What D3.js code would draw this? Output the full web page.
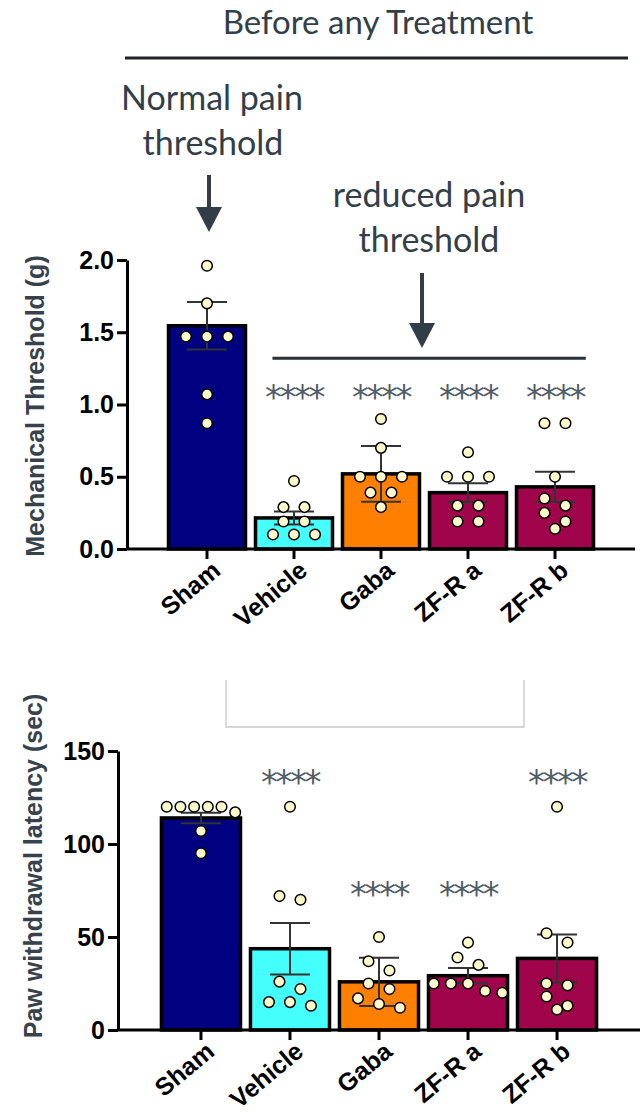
<!DOCTYPE html>
<html>
<head>
<meta charset="utf-8">
<script src="https://cdn.jsdelivr.net/npm/d3@7"></script>
<style>
  body { margin: 0; background: #fff; }
  svg { display: block; }
  .axis path, .axis line { stroke: #000; stroke-width: 3; }
  .axis text { font-family: "Liberation Sans", Arial, sans-serif; font-weight: bold; fill: #000; }
  .note { font-family: Lato, sans-serif; fill: #333f48; }
  .ytitle { font-family: "Liberation Sans", Arial, sans-serif; font-weight: bold; fill: #37424c; font-size: 25px; }
  .stars { font-family: "DejaVu Sans", sans-serif; fill: #525c67; letter-spacing: -2.5px; }
</style>
</head>
<body>
<div id="chart"></div>
<script>
const groups = ["Sham", "Vehicle", "Gaba", "ZF-R a", "ZF-R b"];
const groupColors = ["#000080", "#44fffc", "#ff8000", "#a0044a", "#a0044a"];

// mechanical threshold (g)
const mechMean = [1.545, 0.215, 0.52, 0.39, 0.43];
const mechSem = [0.165, 0.045, 0.193, 0.065, 0.105];
const mechPoints = [
  [1.96, 1.70, 1.47, 1.47, 1.47, 1.07, 0.87],
  [0.47, 0.29, 0.29, 0.19, 0.19, 0.10, 0.10, 0.10],
  [0.90, 0.70, 0.50, 0.50, 0.50, 0.39, 0.39, 0.29],
  [0.67, 0.50, 0.50, 0.50, 0.30, 0.30, 0.19, 0.19],
  [0.87, 0.87, 0.50, 0.35, 0.30, 0.25, 0.19, 0.14]
];
const mechStars = [null, 1.07, 1.07, 1.07, 1.07];
const mechTicks = [0, 0.5, 1.0, 1.5, 2.0];

// paw withdrawal latency (sec)
const pawMean = [114, 43.7, 25.9, 29.2, 38.5];
const pawSem = [2.8, 13.8, 13.0, 4.1, 12.9];
const pawPoints = [
  [120, 120, 120, 120, 120, 117, 107, 95],
  [120, 72, 70, 26, 22, 15, 15, 13],
  [50, 37, 32, 25, 22, 17, 14, 12],
  [47, 39, 35, 25, 25, 25, 21, 20],
  [120, 52, 47, 25, 24, 18, 13, 11]
];
const pawStars = [null, 135, 75, 75, 135];
const pawTicks = [0, 50, 100, 150];

const W = 641, H = 1117;
const svg = d3.select("#chart").append("svg").attr("width", W).attr("height", H);

// simple dot layout: rows of close values, spread and nudged to avoid overlap
function swarm(values, y, cx, bw, r) {
  const sorted = values.slice().sort((a, b) => b - a);
  const placed = [];
  let i = 0;
  while (i < sorted.length) {
    const top = y(sorted[i]);
    const bin = [];
    while (i < sorted.length && y(sorted[i]) - top < 2 * r + 1) {
      bin.push(sorted[i]);
      i++;
    }
    const n = bin.length;
    const gap = n > 1 ? Math.min(21, (bw - 2 * r) / (n - 1)) : 0;
    const shifts = [0, -10.5, 10.5, -21, 21];
    let chosen = null;
    for (const s of shifts) {
      const pts = bin.map((v, k) => ({ v: v, x: cx + s + (k - (n - 1) / 2) * gap, y: y(v) }));
      const hit = pts.some(p => placed.some(q => Math.hypot(p.x - q.x, p.y - q.y) < 2 * r + 0.5));
      if (!hit) { chosen = pts; break; }
    }
    if (!chosen) chosen = bin.map((v, k) => ({ v: v, x: cx + (k - (n - 1) / 2) * gap, y: y(v) }));
    chosen.forEach(p => placed.push(p));
  }
  return placed;
}

function drawPanel(cfg) {
  const g = svg.append("g");

  const x = d3.scaleBand().domain(groups)
    .range([cfg.left, cfg.right])
    .paddingInner(cfg.padIn).paddingOuter(cfg.padOut);
  const y = d3.scaleLinear().domain(cfg.domain).range([cfg.y0, cfg.ytop]);
  const bw = x.bandwidth();

  const rows = groups.map((name, i) => ({
    name: name, mean: cfg.mean[i], sem: cfg.sem[i],
    color: groupColors[i], pts: cfg.points[i], star: cfg.stars[i]
  }));

  // bars
  g.selectAll(".bar").data(rows).enter().append("rect")
    .attr("class", "bar")
    .attr("x", d => x(d.name))
    .attr("width", bw)
    .attr("y", d => y(d.mean))
    .attr("height", d => cfg.y0 - y(d.mean))
    .attr("fill", d => d.color)
    .attr("stroke", "#000")
    .attr("stroke-width", 3.5);

  // error bars
  const err = g.selectAll(".err").data(rows).enter().append("g").attr("class", "err")
    .attr("stroke", "#333").attr("stroke-width", 2);
  err.append("line")
    .attr("x1", d => x(d.name) + bw / 2).attr("x2", d => x(d.name) + bw / 2)
    .attr("y1", d => y(d.mean - d.sem)).attr("y2", d => y(d.mean + d.sem));
  err.append("line")
    .attr("x1", d => x(d.name) + bw / 2 - 20).attr("x2", d => x(d.name) + bw / 2 + 20)
    .attr("y1", d => y(d.mean + d.sem)).attr("y2", d => y(d.mean + d.sem));
  err.append("line")
    .attr("x1", d => x(d.name) + bw / 2 - 20).attr("x2", d => x(d.name) + bw / 2 + 20)
    .attr("y1", d => y(d.mean - d.sem)).attr("y2", d => y(d.mean - d.sem));

  // dots
  const r = 5.3;
  rows.forEach(d => {
    const pts = swarm(d.pts, y, x(d.name) + bw / 2, bw, r);
    g.append("g").selectAll("circle").data(pts).enter().append("circle")
      .attr("cx", p => p.x).attr("cy", p => p.y).attr("r", r)
      .attr("fill", "#fffbcc").attr("stroke", "#000").attr("stroke-width", 1.5);
  });

  // axes
  const yAxis = d3.axisLeft(y).tickValues(cfg.ticks).tickFormat(cfg.fmt)
    .tickSize(10).tickSizeOuter(0).tickPadding(3);
  g.append("g").attr("class", "axis")
    .attr("transform", "translate(" + cfg.left + ",0)")
    .call(yAxis)
    .selectAll("text").style("font-size", "25px");

  const xAxis = d3.axisBottom(x).tickSize(10).tickSizeOuter(0).tickPadding(0);
  const xg = g.append("g").attr("class", "axis")
    .attr("transform", "translate(0," + cfg.y0 + ")")
    .call(xAxis);
  xg.select(".domain").remove();
  xg.append("line").attr("x1", cfg.left).attr("x2", cfg.xEnd).attr("y1", 0).attr("y2", 0);
  xg.selectAll("text")
    .style("font-size", "25px")
    .attr("text-anchor", "end")
    .attr("dy", null)
    .attr("y", null)
    .attr("transform", "translate(15,24) rotate(-40)");

  // significance stars
  g.selectAll(".stars").data(rows.filter(d => d.star !== null)).enter().append("text")
    .attr("class", "stars")
    .attr("x", d => x(d.name) + bw / 2)
    .attr("y", d => y(d.star) + 15)
    .attr("text-anchor", "middle")
    .style("font-size", "34px")
    .text("****");

  // axis title
  g.append("text").attr("class", "ytitle")
    .attr("transform", "translate(" + cfg.titleX + "," + cfg.titleY + ") rotate(-90)")
    .attr("text-anchor", "middle")
    .text(cfg.title);

  return { g: g, x: x, y: y };
}

const mech = drawPanel({
  left: 127, right: 635, xEnd: 635, y0: 549, ytop: 260,
  padIn: 0.115, padOut: 0.477, domain: [0, 2],
  mean: mechMean, sem: mechSem, points: mechPoints, stars: mechStars,
  ticks: mechTicks, fmt: d3.format(".1f"),
  title: "Mechanical Threshold (g)", titleX: 44, titleY: 406
});

const paw = drawPanel({
  left: 118, right: 640, xEnd: 640, y0: 1030, ytop: 751,
  padIn: 0.112, padOut: 0.488, domain: [0, 150],
  mean: pawMean, sem: pawSem, points: pawPoints, stars: pawStars,
  ticks: pawTicks, fmt: d3.format("d"),
  title: "Paw withdrawal latency (sec)", titleX: 42, titleY: 866
});

// line over the treated groups
const bwM = mech.x.bandwidth();
svg.append("line")
  .attr("x1", mech.x("Vehicle") + bwM * 0.22)
  .attr("x2", mech.x("ZF-R b") + bwM * 0.9)
  .attr("y1", mech.y(1.32)).attr("y2", mech.y(1.32))
  .attr("stroke", "#2a3038").attr("stroke-width", 3);

// annotations above the chart
const notes = svg.append("g");
notes.append("text").attr("class", "note")
  .attr("x", 378).attr("y", 34).attr("text-anchor", "middle")
  .style("font-size", "33px").text("Before any Treatment");
notes.append("line").attr("x1", 125).attr("x2", 628).attr("y1", 58).attr("y2", 58)
  .attr("stroke", "#1c2228").attr("stroke-width", 3);

notes.append("text").attr("class", "note")
  .attr("x", 212).attr("y", 110).attr("text-anchor", "middle")
  .style("font-size", "34px").text("Normal pain");
notes.append("text").attr("class", "note")
  .attr("x", 213).attr("y", 155).attr("text-anchor", "middle")
  .style("font-size", "34px").text("threshold");

notes.append("text").attr("class", "note")
  .attr("x", 429).attr("y", 207).attr("text-anchor", "middle")
  .style("font-size", "34px").text("reduced pain");
notes.append("text").attr("class", "note")
  .attr("x", 429).attr("y", 252).attr("text-anchor", "middle")
  .style("font-size", "34px").text("threshold");

function arrow(xc, y1, yHead, yTip) {
  notes.append("line").attr("x1", xc).attr("x2", xc).attr("y1", y1).attr("y2", yHead + 1)
    .attr("stroke", "#323d47").attr("stroke-width", 4);
  notes.append("path")
    .attr("d", "M" + (xc - 13) + "," + yHead + "L" + (xc + 13) + "," + yHead + "L" + xc + "," + yTip + "Z")
    .attr("fill", "#323d47");
}
arrow(209, 175, 207, 232);
arrow(422, 273, 323, 348);

// empty light frame between the panels
svg.append("path")
  .attr("d", "M226,680V727H524V680")
  .attr("fill", "none").attr("stroke", "#c8c8c8").attr("stroke-width", 1.3);
</script>
</body>
</html>
